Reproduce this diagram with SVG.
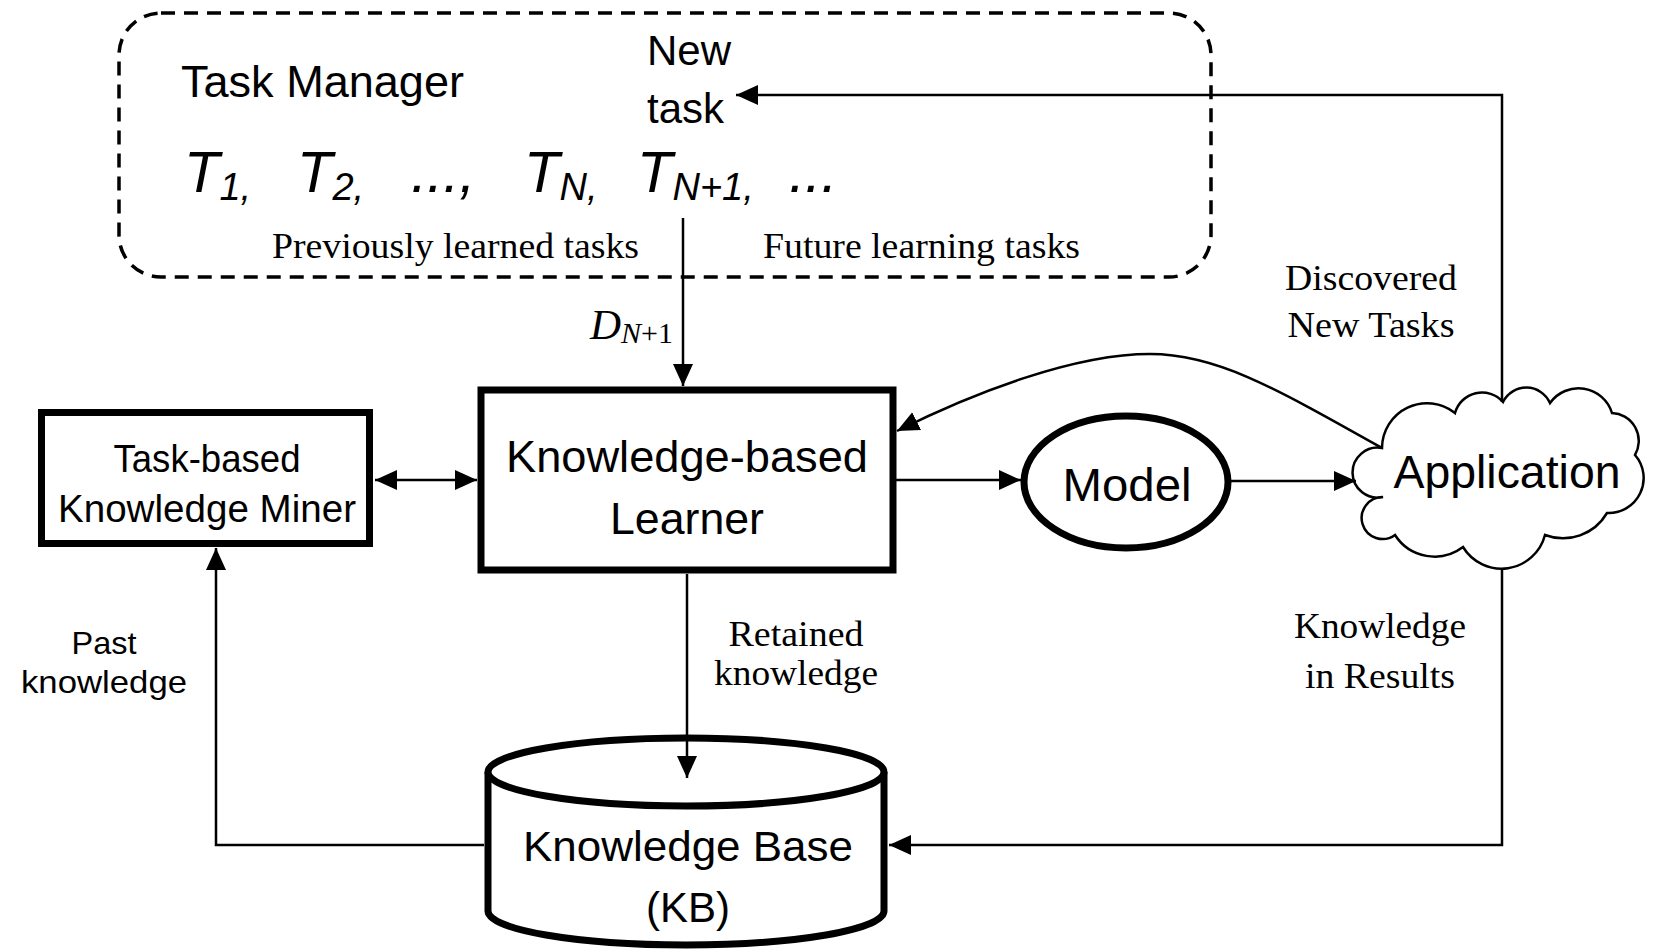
<svg xmlns="http://www.w3.org/2000/svg" width="1653" height="950" viewBox="0 0 1653 950">
<style>
.sans{font-family:"Liberation Sans",Arial,sans-serif;fill:#000}
.serif{font-family:"Liberation Serif","Times New Roman",serif;fill:#000}
.thick{fill:#fff;stroke:#000;stroke-width:7}
.conn{fill:none;stroke:#000;stroke-width:2.5}
</style>
<defs>
<marker id="arr" markerUnits="userSpaceOnUse" markerWidth="24" markerHeight="22" refX="22" refY="10" orient="auto-start-reverse" viewBox="0 0 24 22">
<path d="M0,0 L22,10 L0,20 Z" fill="#000"/>
</marker>
</defs>
<rect width="1653" height="950" fill="#fff"/>

<g id="task-manager">
<rect x="119" y="13" width="1092" height="264" rx="42" ry="42" fill="none" stroke="#000" stroke-width="3.5" stroke-dasharray="14 9"/>
<text class="sans" x="181" y="97" font-size="44" textLength="283" lengthAdjust="spacingAndGlyphs">Task Manager</text>
<text class="sans" x="647" y="65" font-size="42">New</text>
<text class="sans" x="647" y="123" font-size="42">task</text>
<g class="sans" font-style="italic" font-size="58">
<text x="184" y="192">T<tspan font-size="38" dy="8">1,</tspan></text>
<text x="297" y="192">T<tspan font-size="38" dy="8">2,</tspan></text>
<text x="411" y="192">...,</text>
<text x="524" y="192">T<tspan font-size="38" dy="8">N,</tspan></text>
<text x="637" y="192">T<tspan font-size="38" dy="8">N+1,</tspan></text>
<text x="789" y="192">...</text>
</g>
<text class="serif" x="272" y="258" font-size="35" textLength="367" lengthAdjust="spacingAndGlyphs">Previously learned tasks</text>
<text class="serif" x="763" y="258" font-size="35" textLength="317" lengthAdjust="spacingAndGlyphs">Future learning tasks</text>
</g>

<g id="miner">
<rect class="thick" x="41.5" y="412.5" width="328" height="131"/>
<text class="sans" x="207" y="472" font-size="38" text-anchor="middle" textLength="187" lengthAdjust="spacingAndGlyphs">Task-based</text>
<text class="sans" x="207" y="522" font-size="38" text-anchor="middle" textLength="298" lengthAdjust="spacingAndGlyphs">Knowledge Miner</text>
</g>

<g id="learner">
<rect class="thick" x="481" y="390" width="412" height="180"/>
<text class="sans" x="687" y="472" font-size="44" text-anchor="middle" textLength="362" lengthAdjust="spacingAndGlyphs">Knowledge-based</text>
<text class="sans" x="687" y="534" font-size="44" text-anchor="middle" textLength="154" lengthAdjust="spacingAndGlyphs">Learner</text>
</g>

<g id="model">
<ellipse cx="1126" cy="482" rx="102" ry="66" fill="#fff" stroke="#000" stroke-width="7"/>
<text class="sans" x="1127" y="501" font-size="46" text-anchor="middle" textLength="129" lengthAdjust="spacingAndGlyphs">Model</text>
</g>

<g id="application">
<path d="M1382,448 A45,45 0 0 1 1455,413 A28,28 0 0 1 1503,402 A26,26 0 0 1 1550,403 A35,35 0 0 1 1612,413 A28,28 0 0 1 1635,455 A35,35 0 0 1 1607,513 A51,51 0 0 1 1545,535 A45,45 0 0 1 1463,547 A47,47 0 0 1 1395,535 A21,21 0 1 1 1383,497 A25,25 0 1 1 1382,448 Z" fill="#fff" stroke="#000" stroke-width="2.5"/>
<text class="sans" x="1507" y="488" font-size="46" text-anchor="middle" textLength="227" lengthAdjust="spacingAndGlyphs">Application</text>
</g>

<g id="kb">
<path d="M488,772 L488,911 A198,34 0 0 0 884,911 L884,772" fill="#fff" stroke="#000" stroke-width="7"/>
<ellipse cx="686" cy="772" rx="198" ry="34" fill="#fff" stroke="#000" stroke-width="7"/>
<text class="sans" x="688" y="861" font-size="42" text-anchor="middle" textLength="330" lengthAdjust="spacingAndGlyphs">Knowledge Base</text>
<text class="sans" x="688" y="922" font-size="42" text-anchor="middle">(KB)</text>
</g>

<g id="connectors">
<line class="conn" x1="683" y1="218" x2="683" y2="386" marker-end="url(#arr)"/>
<polyline class="conn" points="1502,402 1502,95 736,95" marker-end="url(#arr)"/>
<line class="conn" x1="375" y1="480" x2="477" y2="480" marker-start="url(#arr)" marker-end="url(#arr)"/>
<line class="conn" x1="896" y1="480" x2="1021" y2="480" marker-end="url(#arr)"/>
<line class="conn" x1="1231" y1="481" x2="1356" y2="481" marker-end="url(#arr)"/>
<path class="conn" d="M1382,448 C1270,385 1215,354 1150,354 C1075,354 975,392 897,431" marker-end="url(#arr)"/>
<line class="conn" x1="687" y1="574" x2="687" y2="778" marker-end="url(#arr)"/>
<polyline class="conn" points="1502,570 1502,845 889,845" marker-end="url(#arr)"/>
<polyline class="conn" points="484,845 216,845 216,548" marker-end="url(#arr)"/>
</g>

<g id="labels">
<text class="serif" x="590" y="339" font-size="43" font-style="italic">D<tspan font-size="30" dy="4">N</tspan><tspan font-size="30" font-style="normal">+1</tspan></text>
<text class="serif" x="1371" y="290" font-size="35" text-anchor="middle" textLength="172" lengthAdjust="spacingAndGlyphs">Discovered</text>
<text class="serif" x="1371" y="337" font-size="35" text-anchor="middle" textLength="167" lengthAdjust="spacingAndGlyphs">New Tasks</text>
<text class="serif" x="1380" y="638" font-size="35" text-anchor="middle" textLength="172" lengthAdjust="spacingAndGlyphs">Knowledge</text>
<text class="serif" x="1380" y="688" font-size="35" text-anchor="middle" textLength="150" lengthAdjust="spacingAndGlyphs">in Results</text>
<text class="serif" x="796" y="646" font-size="35" text-anchor="middle" textLength="135" lengthAdjust="spacingAndGlyphs">Retained</text>
<text class="serif" x="796" y="685" font-size="35" text-anchor="middle" textLength="164" lengthAdjust="spacingAndGlyphs">knowledge</text>
<text class="sans" x="104" y="654" font-size="32" text-anchor="middle" textLength="65" lengthAdjust="spacingAndGlyphs">Past</text>
<text class="sans" x="104" y="693" font-size="32" text-anchor="middle" textLength="166" lengthAdjust="spacingAndGlyphs">knowledge</text>
</g>
</svg>
